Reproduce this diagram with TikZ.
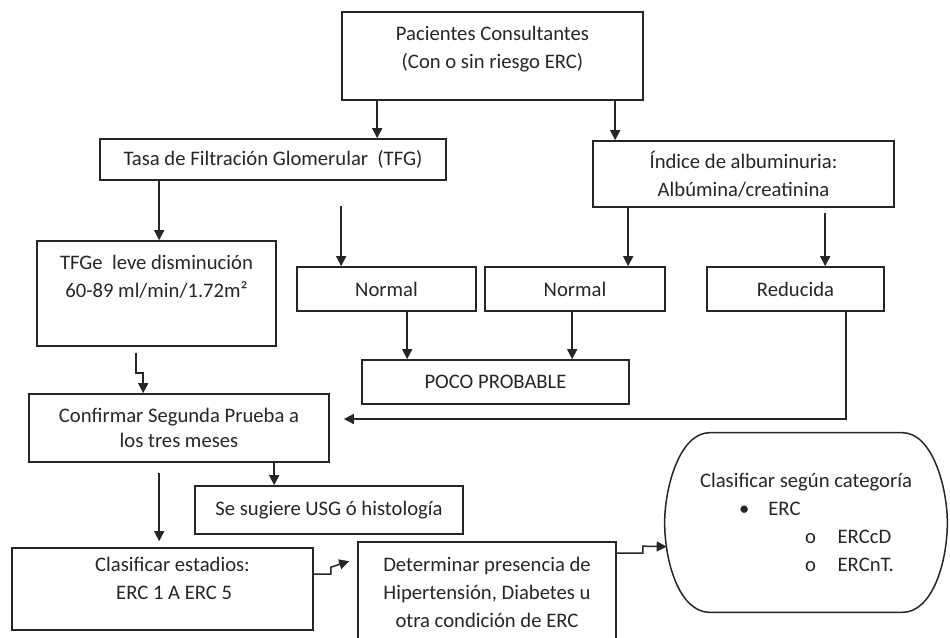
\documentclass[tikz,border=0pt]{standalone}
\usepackage{fontspec}
\setmainfont{Carlito}
\usepackage{tikz}
\usetikzlibrary{arrows.meta, calc}
\newcommand{\pxu}{0.6pt}

\begin{document}
\begin{tikzpicture}[
        x=0.6pt, y=-0.6pt,
        font=\fontsize{12.4}{16.8}\selectfont,
        % Define Styles
        box/.style={rectangle, draw=black!85, line width=1pt, inner sep=0pt, align=center, text=black!85},
        arr/.style={-{Triangle[length=6pt,width=6pt]}, line width=0.9pt, draw=black!85}
    ]
    \useasboundingbox (0,0) rectangle (950,637);
    \clip (0,0) rectangle (950,637);

    % --- TOP ---
    \node[box, minimum width=301*\pxu, minimum height=88*\pxu] (pac) at (492.5,56) {Pacientes Consultantes\\(Con o sin riesgo ERC)\\[-6.3pt]~};

    \node[box, minimum width=346*\pxu, minimum height=41*\pxu] (tfg) at (273,159.5) {Tasa de Filtración Glomerular\ \ (TFG)};
    \node[box, minimum width=301*\pxu, minimum height=66*\pxu] (ind) at (743.5,174) {Índice de albuminuria:\\Albúmina/creatinina};

    \draw[arr] ($(pac.south west)+(36,0)$) coordinate (a1) -- (a1 |- tfg.north);
    \draw[arr] ($(pac.south west)+(274,0)$) coordinate (a2) -- (a2 |- ind.north);

    % --- SECOND ROW ---
    \node[box, minimum width=239*\pxu, minimum height=105*\pxu] (tfge) at (156.5,293.5) {TFGe\ \ leve disminución\\60-89 ml/min/1.72m²\\[4pt]~};
    \node[box, minimum width=179*\pxu, minimum height=44*\pxu] (nor1) at (386.5,289) {Normal};
    \node[box, minimum width=180*\pxu, minimum height=44*\pxu] (nor2) at (575,289) {Normal};
    \node[box, minimum width=177*\pxu, minimum height=44*\pxu] (red) at (795.5,289) {Reducida};
    \node[box, minimum width=267*\pxu, minimum height=44*\pxu] (poco) at (495.5,382) {POCO PROBABLE};

    \draw[arr] ($(tfg.south west)+(60,0)$) coordinate (a3) -- (a3 |- tfge.north);
    \coordinate (free) at ($(nor1.north west)+(45,-60)$);
    \draw[arr] (free) -- (free |- nor1.north);
    \draw[arr] ($(ind.south west)+(36,0)$) coordinate (a4) -- (a4 |- nor2.north);
    \draw[arr] ($(ind.south west)+(233,5)$) coordinate (a5) -- (a5 |- red.north);
    \draw[arr] ($(nor1.south west)+(111,0)$) coordinate (a6) -- (a6 |- poco.north);
    \draw[arr] ($(nor2.south west)+(88,0)$) coordinate (a7) -- (a7 |- poco.north);

    % --- CONFIRMATION ---
    \node[box, minimum width=300*\pxu, minimum height=68*\pxu, font=\fontsize{12.4}{15}\selectfont] (conf) at (179,428) {Confirmar Segunda Prueba a\\los tres meses};
    \node[box, minimum width=268*\pxu, minimum height=48*\pxu] (sug) at (329,510) {Se sugiere USG ó histología};

    \draw[arr] ($(tfge.south west)+(100,6)$) -- ++(0,20) -- ++(7,0) -- ($(conf.north west)+(115,0)$);
    \draw[arr] ($(red.south west)+(140,0)$) |- ($(conf.east)+(14,-9)$);
    \draw[arr] ($(conf.south west)+(246,0)$) coordinate (a8) -- (a8 |- sug.north);

    % --- BOTTOM ROW ---
    \node[box, minimum width=301*\pxu, minimum height=82*\pxu, align=left] (est) at (162.5,589) {\hspace*{12pt}Clasificar estadios:\\\hspace*{24.6pt}ERC 1 A ERC 5\\[-4pt]~};
    \node[box, minimum width=258*\pxu, minimum height=100*\pxu] (det) at (487,592) {Determinar presencia de\\Hipertensión, Diabetes u\\otra condición de ERC};
    \node[rectangle, inner sep=0pt, minimum width=282*\pxu, minimum height=179*\pxu, align=left, text=black!85] (cat) at (806,522.5)
        {Clasificar según categoría\\
         \hspace*{23.4pt}\textbullet\hspace*{11.4pt}ERC\\
         \hspace*{63pt}o\hspace*{13pt}ERCcD\\
         \hspace*{63pt}o\hspace*{13pt}ERCnT.};
    \draw[draw=black!85, line width=0.9pt]
        ($(cat.north west)+(45,0)$) -- ($(cat.north east)+(-45,0)$)
        .. controls ($(cat.north east)+(-15,0)$) and ($(cat.east)+(0,-35)$) .. (cat.east)
        .. controls ($(cat.east)+(0,40)$) and ($(cat.south east)+(-15,0)$) .. ($(cat.south east)+(-45,0)$)
        -- ($(cat.south west)+(45,0)$)
        .. controls ($(cat.south west)+(15,0)$) and ($(cat.west)+(0,40)$) .. (cat.west)
        .. controls ($(cat.west)+(0,-35)$) and ($(cat.north west)+(15,0)$) .. cycle;

    \draw[arr] ($(conf.south west)+(131,10)$) -- ($(est.north west)+(148,-6)$);
    \draw[arr] ($(est.north east)+(0,27)$) -- ++(17,0) -- ++(0,-7) -- ($(det.north west)+(-8,20)$);
    \draw[arr] ($(det.north east)+(0,12)$) -- ++(26,0) -- ++(0,-7) -- ($(cat.north west)+(2,114)$);

\end{tikzpicture}
\end{document}
